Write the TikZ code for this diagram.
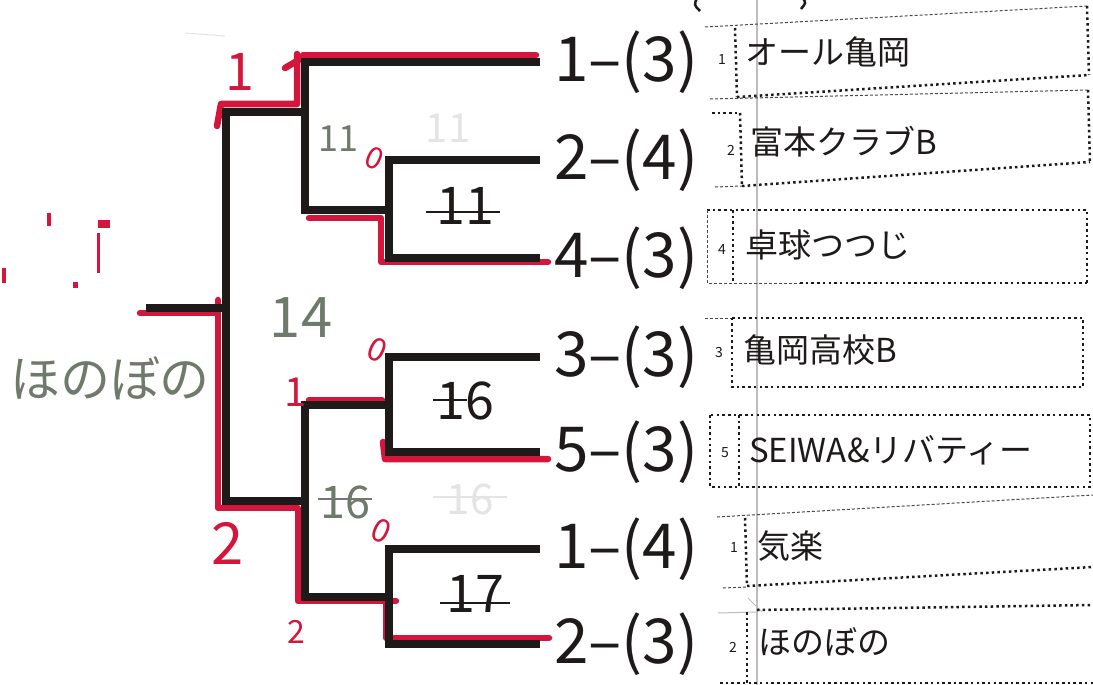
\documentclass[tikz,border=0pt]{standalone}
\usepackage{fontspec}
\setmainfont{Noto Sans CJK JP}
\definecolor{ink}{HTML}{1E1A1A}
\definecolor{pen}{HTML}{D4163C}
\definecolor{pencil}{HTML}{6F7A6C}
\definecolor{faintg}{HTML}{E4E4E4}
\definecolor{foldg}{HTML}{BDBDBD}
\begin{document}
\begin{tikzpicture}[x=1pt,y=-1pt,
  bk/.style={line width=8pt, draw=ink, line join=miter},
  rd/.style={line width=6.5pt, draw=pen, line cap=round, line join=round},
  score/.style={font=\fontsize{62}{62}\selectfont, inner sep=0pt, anchor=west, text=ink},
  tname/.style={font=\fontsize{33}{33}\selectfont, inner sep=0pt, anchor=west, text=ink},
  seed/.style={font=\fontsize{14}{14}\selectfont, inner sep=0pt, text=ink},
  dotb/.style={line width=2.5pt, draw=ink, dash pattern=on 2.5pt off 3.2pt},
  dotthin/.style={line width=1pt, draw=ink!80, dash pattern=on 3pt off 2pt},
  hgray/.style={text=pencil, inner sep=0pt},
  hred/.style={text=pen, inner sep=0pt},
  hblack/.style={text=ink, inner sep=0pt},
  strike/.style={line width=1.8pt, draw=ink},
  gstrike/.style={line width=1.8pt, draw=pencil}]
\useasboundingbox (0,0) rectangle (1093,685);
\fill[white] (0,0) rectangle (1093,685);

% page fold line
\draw[foldg, line width=1.5pt] (757,0) -- (757,685);

% ---------- row end points ----------
\coordinate (e1) at (540,62);
\coordinate (e2) at (540,160);
\coordinate (e3) at (540,258);
\coordinate (e4) at (540,357);
\coordinate (e5) at (540,452);
\coordinate (e6) at (540,549);
\coordinate (e7) at (540,644);
% match joins
\coordinate (mA) at (389,210);
\coordinate (pA) at (305,210);
\coordinate (oT) at (305,112);
\coordinate (fT) at (226,112);
\coordinate (mB) at (389,405);
\coordinate (pB) at (305,405);
\coordinate (mC) at (389,597);
\coordinate (pC) at (305,597);
\coordinate (oB) at (305,501);
\coordinate (fB) at (226,501);
\coordinate (fM) at (226,308);
\coordinate (st) at (146,308);

% ---------- red winner marks ----------
\draw[rd] (536,55) -- (303,55);
\draw[rd] (297,54) -- (297,104) -- (221,104) -- (217,126);
\draw[rd] (285,68) -- (302,58);
\draw[rd] (309,218) -- (381,218) -- (381,262) -- (548,262);
\draw[rd] (309,400) -- (382,400);
\draw[rd] (383,442) -- (385,459) -- (548,459);
\draw[rd] (140,313) -- (216,313);
\draw[rd] (218,300) -- (218,508) -- (298,508) -- (298,601) -- (396,601);
\draw[rd] (386,601) -- (386,638) -- (549,638);

% ---------- bracket ----------
\draw[bk] (e2) -| (mA) |- (e3);
\draw[bk] (e4) -| (mB) |- (e5);
\draw[bk] (e6) -| (mC) |- (e7);
\draw[bk] (e1) -| (pA) -- (mA);
\draw[bk] (mB) -- (pB) |- (pC) -- (mC);
\draw[bk] (oT) -- (fT) -- (fB) -- (oB);
\draw[bk] (fM) -- (st);

% ---------- scores ----------
\node[score] (s1) at ([xshift=14pt]e1) {1–(3)};
\node[score] (s2) at ([xshift=14pt]e2) {2–(4)};
\node[score] (s3) at ([xshift=14pt]e3) {4–(3)};
\node[score] (s4) at ([xshift=14pt]e4) {3–(3)};
\node[score] (s5) at ([xshift=14pt]e5) {5–(3)};
\node[score] (s6) at ([xshift=14pt]e6) {1–(4)};
\node[score] (s7) at ([xshift=14pt]e7) {2–(3)};

% ---------- team boxes ----------
% box 1
\draw[dotthin] (705,27) -- (1087,6);
\draw[dotb] (1087,6) -- (1089,75);
\draw[dotb] (737,97) -- (1089,75);
\draw[dotb] (735,28) -- (737,97);
% box 2
\draw[dotthin] (710,99) -- (1088,90);
\draw[dotb] (712,113) -- (740,113);
\draw[dotb] (740,113) -- (742,186);
\draw[dotb] (1088,90) -- (1090,162);
\draw[dotb] (742,186) -- (1090,162);
\draw[dotthin] (715,187) -- (742,186);
% box 3
\draw[dotb] (707,210) -- (1087,210) -- (1087,283);
\draw[dotthin] (707,210) -- (707,283) -- (800,283);
\draw[dotb] (800,283) -- (1087,283);
\draw[dotb] (733,210) -- (733,283);
% box 4
\draw[dotthin] (705,318) -- (732,318);
\draw[dotb] (732,318) -- (1083,318) -- (1083,387) -- (732,387) -- cycle;
% box 5
\draw[dotb] (710,415) rectangle (1090,487);
\draw[dotb] (739,415) -- (739,487);
% box 6
\draw[dotthin] (717,517) -- (1093,495);
\draw[dotb] (745,518) -- (747,586);
\draw[dotb] (747,586) -- (1093,567);
\draw[dotthin] (723,588) -- (747,587);
% box 7
\draw[foldg, line width=1pt] (718,613) -- (757,612);
\draw[foldg, line width=1pt] (748,598) -- (762,612);
\draw[dotb] (757,610) -- (1093,605);
\draw[dotb] (747,612) -- (747,685);
\draw[dotb] (720,683) -- (1093,683);
% partial glyphs at top edge
\draw[ink, line width=2.5pt] (697,-2) .. controls (694,5) .. (700,11);
\draw[ink, line width=2.5pt] (803,-2) .. controls (806,3) .. (801,9);

% seeds
\node[seed] (n1) at (722,60) {1};
\node[seed] (n2) at (731,150) {2};
\node[seed] (n3) at (722,250) {4};
\node[seed] (n4) at (719,353) {3};
\node[seed] (n5) at (725,453) {5};
\node[seed] (n6) at (734,548) {1};
\node[seed] (n7) at (733,647) {2};

% team names
\node[tname] (t1) at (745,52) {オール亀岡};
\node[tname] (t2) at (750,142) {富本クラブB};
\node[tname] (t3) at (745,245) {卓球つつじ};
\node[tname] (t4) at (743,350) {亀岡高校B};
\node[tname] (t5) at (749,450) {SEIWA\&リバティー};
\node[tname] (t6) at (757,546) {気楽};
\node[tname] (t7) at (758,642) {ほのぼの};

% ---------- handwriting ----------
\node[hred, font=\fontsize{52}{52}\selectfont] (h1) at (240,72) {1};
\node[hgray, font=\fontsize{36}{36}\selectfont] (h2) at (338,139) {11};
\node[hred, font=\fontsize{30}{30}\selectfont, rotate=-25] (h3) at (375,158) {0};
\node[text=faintg, inner sep=0pt, font=\fontsize{40}{40}\selectfont] (h4) at (448,128) {11};
\node[hblack, font=\fontsize{52}{52}\selectfont] (h5) at (465,206) {11};
\draw[strike] (426,212) -- (500,212);
\node[hgray, font=\fontsize{56}{56}\selectfont] (h6) at (301,318) {14};
\node[hred, font=\fontsize{32}{32}\selectfont, rotate=-25] (h7) at (377,350) {0};
\node[hred, font=\fontsize{40}{40}\selectfont] (h8) at (296,392) {1};
\node[hblack, font=\fontsize{52}{52}\selectfont] (h9) at (465,401) {16};
\draw[strike] (433,400) -- (467,400);
\node[hgray, font=\fontsize{45}{45}\selectfont] (h10) at (345,502) {16};
\draw[gstrike] (318,499) -- (372,499);
\node[text=faintg, inner sep=0pt, font=\fontsize{42}{42}\selectfont] (h11) at (470,500) {16};
\draw[faintg, line width=1.5pt] (433,497) -- (507,497);
\node[hred, font=\fontsize{32}{32}\selectfont, rotate=-25] (h12) at (381,531) {0};
\node[hred, font=\fontsize{58}{58}\selectfont] (h13) at (228,543) {2};
\node[hblack, font=\fontsize{52}{52}\selectfont] (h14) at (475,594) {17};
\draw[strike] (440,603) -- (510,603);
\node[hred, font=\fontsize{32}{32}\selectfont] (h15) at (296,632) {2};
\node[hgray, font=\fontsize{50}{50}\selectfont] (h16) at (110,378) {ほのぼの};

% scan specks at left
\fill[pen] (98,220) rectangle (110,228);
\fill[pen] (97,233) rectangle (100,273);
\fill[pen] (2,268) rectangle (6,283);
\fill[pen] (73,282) rectangle (78,288);
\fill[pen] (47,213) rectangle (51,226);
\draw[faintg, line width=1pt] (185,33) -- (225,36);
\end{tikzpicture}
\end{document}
